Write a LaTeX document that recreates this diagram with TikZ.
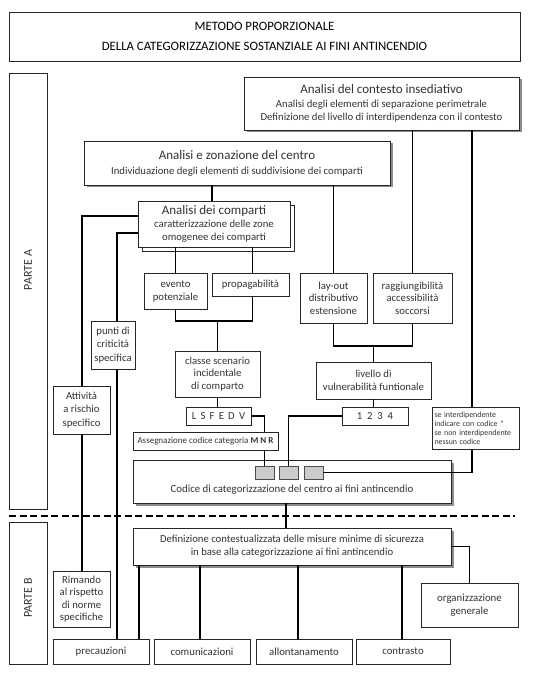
\documentclass[tikz,border=0pt]{standalone}
\usepackage{fontspec}
\setmainfont{Carlito}
\usetikzlibrary{shadows}
\newcommand\fsz[2]{\fontsize{#1pt}{#2pt}\selectfont}
\newcommand\lgap{\hspace{4.2pt}}
\newcommand\ngap{\hspace{4.8pt}}
\begin{document}
\begin{tikzpicture}[x=1pt,y=-1pt,
  box/.style={draw=black!85, line width=0.8pt, fill=white, align=center, inner sep=1pt,
    text=black!80, font=\fsz{10.7}{13}},
  wh/.style 2 args={minimum width=#1pt, minimum height=#2pt},
  sbox/.style={box, drop shadow={shadow xshift=2.5pt, shadow yshift=-2.5pt, fill=black!45, opacity=1}},
  cbox/.style={box, copy shadow={shadow xshift=4pt, shadow yshift=-4pt}},
  smallbox/.style={draw=black!70, line width=0.6pt, fill=black!20, minimum width=19pt, minimum height=13pt, inner sep=0pt},
  partbox/.style={draw=black!85, line width=0.9pt, fill=white},
  partlabel/.style={rotate=90, text=black!80, font=\fsz{12}{14}},
  conn/.style={draw=black, line width=1.1pt},
  sep/.style={draw=black, line width=2.2pt, dash pattern=on 7pt off 3.5pt}
]
\useasboundingbox (0,0) rectangle (540,676);
\fill[white] (0,0) rectangle (540,676);

% title
\node[box, wh={511}{49}, text=black, line width=0.9pt, font=\fsz{12.8}{20}] (title) at (264.5,36.5)
  {METODO PROPORZIONALE\\ DELLA CATEGORIZZAZIONE SOSTANZIALE AI FINI ANTINCENDIO};

% parts
\node[partbox, wh={38}{436}] (parteA) at (28,291) {};
\node[partlabel] (labA) at (28,270) {PARTE A};
\node[partbox, wh={38}{142}] (parteB) at (28,593) {};
\node[partlabel] (labB) at (28,598) {PARTE B};

% separator
\coordinate (sepL) at (9,516);
\coordinate (sepR) at (515,516);
\draw[sep] (sepL) -- (sepR);

% upper boxes
\node[sbox, wh={275}{53}] (contesto) at (381.5,103.5)
  {{\fsz{13}{15}Analisi del contesto insediativo}\\[1pt]
   Analisi degli elementi di separazione perimetrale\\
   Definizione del livello di interdipendenza con il contesto};
\node[sbox, wh={306}{44}] (zona) at (237,163)
  {{\fsz{13}{15}Analisi e zonazione del centro}\\[2pt]
   Individuazione degli elementi di suddivisione dei comparti};
\node[cbox, wh={152}{46}] (comparti) at (214,224)
  {{\fsz{13}{15}Analisi dei comparti}\\
   caratterizzazione delle zone\\ omogenee dei comparti};

\node[box, wh={63}{36}] (evento) at (175.5,291) {evento\\potenziale};
\node[box, wh={77}{23}] (propag) at (250.5,284.5) {propagabilità};
\node[box, wh={67}{50}, font=\fsz{10.7}{12.5}] (layout) at (333.5,298) {lay-out\\distributivo\\estensione};
\node[box, wh={79}{50}, font=\fsz{10.7}{12.5}] (ragg) at (412.5,298) {raggiungibilità\\accessibilità\\soccorsi};
\node[box, wh={44}{48}, font=\fsz{10.7}{13.5}] (punti) at (113,345) {punti di\\criticità\\specifica};
\node[box, wh={85}{46}, font=\fsz{10.7}{12.5}] (classe) at (217.5,374) {classe scenario\\incidentale\\di comparto};
\node[box, wh={115}{37}] (livello) at (373.5,380.5) {livello di\\vulnerabilità funtionale};
\node[box, wh={57}{48}, font=\fsz{10.7}{13.5}] (attivita) at (81.5,410) {Attività\\a rischio\\specifico};
\node[box, wh={65}{18}] (lsfedv) at (218.5,416) {L\lgap S\lgap F\lgap E\lgap D\lgap V};
\node[box, wh={66}{18}] (n1234) at (375,416) {1\ngap 2\ngap 3\ngap 4};
\node[box, wh={87}{42}, align=left, font=\fsz{7.9}{9}, text width=82pt] (seint) at (475.5,428)
  {se interdipendente\\ indicare con codice *\\ se non interdipendente\\ nessun codice};

\node[sbox, wh={318}{43}] (codice) at (292,481.5) {};
\node[text=black!80, font=\fsz{10.8}{12}] (codtxt) at (292,489.5) {Codice di categorizzazione del centro ai fini antincendio};
\node[smallbox] (sb1) at (264.5,472.5) {};
\node[smallbox] (sb2) at (288.5,472.5) {};
\node[smallbox] (sb3) at (313.5,472.5) {};

% lower boxes
\node[sbox, wh={318}{37}] (defin) at (292,546.5)
  {Definizione contestualizzata delle misure minime di sicurezza\\
   in base alla categorizzazione ai fini antincendio};
\node[box, wh={57}{56}, font=\fsz{10.7}{12.3}] (rimando) at (81.5,599) {Rimando\\al rispetto\\di norme\\specifiche};
\node[box, wh={97}{44}, font=\fsz{10.8}{13}] (organ) at (469.5,605) {organizzazione\\generale};
\node[box, wh={96}{25}, font=\fsz{10.8}{13}] (prec) at (101,651.5) {precauzioni};
\node[box, wh={96}{25}, font=\fsz{10.8}{13}] (comun) at (202,651.5) {comunicazioni};
\node[box, wh={96}{25}, font=\fsz{10.8}{13}] (allont) at (304,651.5) {allontanamento};
\node[box, wh={94}{25}, font=\fsz{10.8}{13}] (contr) at (403,651.5) {contrasto};

% connectors
\draw[conn] (ragg.north |- contesto.south) -- (ragg.north);
\draw[conn] ([xshift=-3.5pt]seint.north |- contesto.south) -- ([xshift=-3.5pt]seint.north);
\draw[conn] ([xshift=-2pt]comparti.north |- zona.south) -- ([xshift=-2pt]comparti.north);
\draw[conn] (layout.north |- zona.south) -- (layout.north);
\draw[conn] (evento.north |- comparti.south) -- (evento.north);
\draw[conn] ([xshift=2pt]propag.north |- comparti.south) -- ([xshift=2pt]propag.north);
\coordinate (j1) at (217.5,321);
\draw[conn] (evento.south) |- (j1) -| ([xshift=2pt]propag.south);
\draw[conn] (j1) -- (classe.north);
\draw[conn] (classe.south) -- (classe.south |- lsfedv.north);
\coordinate (j2) at (373.5,346);
\draw[conn] (layout.south) |- (j2) -| (ragg.south);
\draw[conn] (j2) -- (livello.north);
\draw[conn] (livello.south) -- (livello.south |- n1234.north);
\draw[conn] ([yshift=8pt]comparti.west) -| ([xshift=0.5pt]attivita.north);
\draw[conn] ([xshift=0.5pt]attivita.south) -- ([xshift=0.5pt]attivita.south |- rimando.north);
\draw[conn] ([yshift=-9pt]comparti.west) -| ([xshift=4pt]punti.north);
\draw[conn] ([xshift=4pt]punti.south) -- ([xshift=4pt]punti.south |- prec.north);
\draw[conn] (lsfedv.east) -| (sb1.north);
\draw[conn] (n1234.west) -| (sb2.north);
\draw[conn] ([xshift=-3.5pt]seint.south) |- (sb3.east);
\draw[conn] ([xshift=-6pt]codice.south) -- ([xshift=-6pt]defin.north);
\draw[conn] (defin.east) -| (organ.north);
\draw[conn] ([xshift=38pt]prec.north |- defin.south) -- ([xshift=38pt]prec.north);
\draw[conn] ([xshift=-2pt]comun.north |- defin.south) -- ([xshift=-2pt]comun.north);
\draw[conn] ([xshift=-6pt]allont.north |- defin.south) -- ([xshift=-6pt]allont.north);
\draw[conn] ([xshift=-1pt]contr.north |- defin.south) -- ([xshift=-1pt]contr.north);

\node[box, wh={145}{18}, font=\fsz{9}{10}] (assegn) at (205.5,441)
  {Assegnazione codice categoria {\bfseries M N R}};
\end{tikzpicture}
\end{document}
